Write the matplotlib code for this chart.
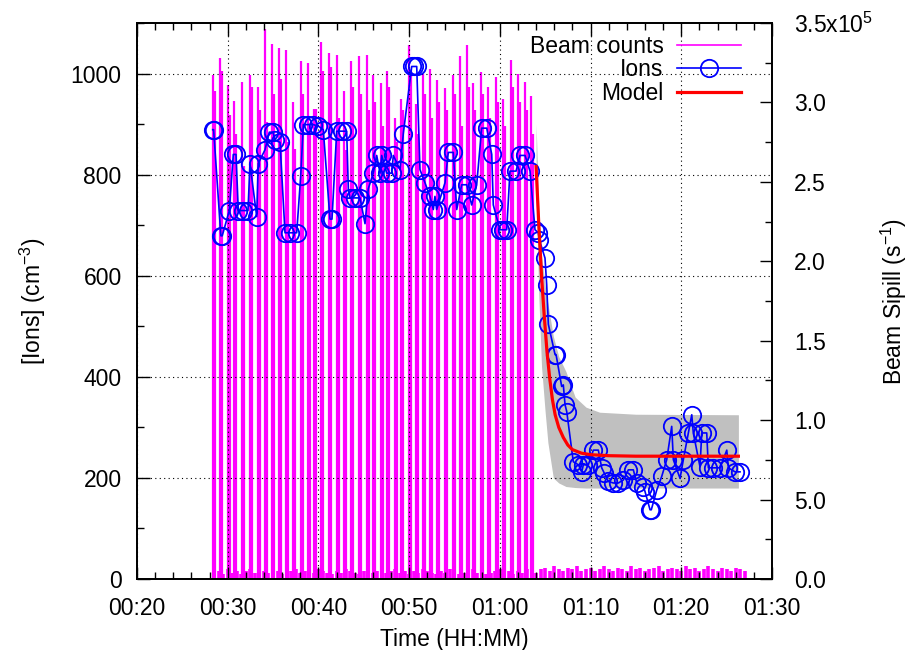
import numpy as np
import matplotlib
matplotlib.use('Agg')
import matplotlib.pyplot as plt
from matplotlib.ticker import MultipleLocator, FixedLocator
from matplotlib.lines import Line2D

plt.rcParams['font.family'] = ['Liberation Sans', 'DejaVu Sans']
plt.rcParams['mathtext.fontset'] = 'custom'
plt.rcParams['mathtext.rm'] = 'Liberation Sans'
plt.rcParams['mathtext.default'] = 'regular'

# time in minutes after 00:00
xticks = [20, 30, 40, 50, 60, 70, 80, 90]
xlabels = ['00:20', '00:30', '00:40', '00:50', '01:00', '01:10', '01:20', '01:30']

# right axis (beam spill, x1e5)
y2ticks = [0.0, 0.5, 1.0, 1.5, 2.0, 2.5, 3.0, 3.5]
y2labels = ['0.0', '5.0', '1.0', '1.5', '2.0', '2.5', '3.0', '3.5x10$^5$']

# beam spills, pairs of spikes (units 1e5 s^-1)
spill_t = [28.35, 29.15, 30.00, 30.73, 31.54, 32.46, 33.31, 34.11, 34.92, 35.69,
           36.38, 37.23, 38.05, 38.89, 39.51, 40.29, 41.17, 42.02, 42.82, 43.56,
           44.44, 45.33, 46.05, 46.87, 47.53, 48.45, 49.11, 50.02, 50.73, 51.50,
           52.30, 53.04, 53.96, 54.81, 55.61, 56.42, 57.08, 57.89, 58.73, 59.58,
           60.39, 61.20, 62.04, 62.78, 63.41]
spill_a = [3.17, 3.28, 3.11, 3.01, 3.13, 3.17, 3.10, 3.46, 3.37, 3.34,
           3.33, 3.00, 3.26, 3.25, 2.96, 3.38, 3.31, 3.30, 3.07, 3.26,
           3.29, 3.30, 3.17, 3.12, 3.20, 2.90, 3.02, 3.36, 2.99, 3.18,
           3.21, 3.14, 3.09, 3.17, 3.29, 3.36, 3.12, 3.19, 3.10, 3.16,
           3.02, 3.27, 3.18, 3.13, 3.04]
spill2_t = [28.57, 29.37, 30.22, 30.95, 31.76, 32.68, 33.53, 34.33, 35.14, 35.91,
            36.60, 37.45, 38.27, 39.11, 39.73, 40.51, 41.39, 42.24, 43.04, 43.78,
            44.66, 45.55, 46.27, 47.09, 47.75, 48.67, 49.33, 50.24, 50.95, 51.72,
            52.52, 53.26, 54.18, 55.03, 55.83, 56.64, 57.30, 58.11, 58.95, 59.80,
            60.61, 61.42, 62.26, 63.00, 63.63]
spill_b = [3.07, 3.20, 2.92, 2.80, 2.60, 3.10, 2.95, 2.88, 3.05, 3.15,
           2.75, 2.71, 3.05, 2.85, 2.96, 3.20, 3.22, 2.90, 2.70, 3.10,
           3.05, 2.95, 3.00, 2.85, 3.10, 2.75, 2.95, 3.20, 2.80, 3.05,
           2.90, 3.00, 2.95, 3.05, 2.85, 3.10, 2.95, 3.05, 2.90, 3.00,
           2.85, 3.10, 3.00, 2.95, 2.80]

# background counts, every 0.5 min from 28.5 to 87.0
noise_t = np.arange(28.5, 87.01, 0.5)
noise_v = [0.04, 0.05, 0.03, 0.06, 0.04, 0.05, 0.03, 0.05, 0.06, 0.04,
           0.03, 0.05, 0.04, 0.06, 0.05, 0.03, 0.04, 0.05, 0.06, 0.04,
           0.05, 0.03, 0.04, 0.06, 0.05, 0.04, 0.03, 0.05, 0.04, 0.06,
           0.05, 0.04, 0.03, 0.05, 0.06, 0.04, 0.05, 0.03, 0.04, 0.05,
           0.06, 0.04, 0.05, 0.03, 0.05, 0.04, 0.06, 0.05, 0.04, 0.03,
           0.05, 0.04, 0.06, 0.05, 0.03, 0.04, 0.05, 0.06, 0.04, 0.05,
           0.03, 0.04, 0.05, 0.06, 0.04, 0.05, 0.03, 0.05, 0.04, 0.06,
           0.05, 0.04,
           0.06, 0.07, 0.05, 0.08, 0.06, 0.05, 0.07, 0.06, 0.08, 0.05,
           0.06, 0.07, 0.05, 0.06, 0.08, 0.06, 0.05, 0.07, 0.06, 0.05,
           0.08, 0.06, 0.07, 0.05, 0.06, 0.07, 0.08, 0.05, 0.06, 0.07,
           0.06, 0.05, 0.08, 0.06, 0.07, 0.05, 0.06, 0.08, 0.06, 0.05,
           0.07, 0.06, 0.05, 0.07, 0.06, 0.05]

# ion concentration (cm^-3)
ion_t = [28.35, 28.45, 29.25, 29.40, 30.18, 30.62, 30.92, 31.17, 31.72, 32.24,
         32.46, 33.20, 33.37, 34.11, 34.59, 35.00, 35.22, 35.77, 36.32, 36.87,
         37.61, 38.05, 38.34, 38.89, 39.44, 39.99, 40.54, 41.28, 41.50, 42.02,
         42.57, 43.12, 43.30, 43.48, 44.04, 44.59, 45.14, 45.50, 46.05, 46.43,
         46.80, 46.98, 47.53, 48.08, 48.26, 49.00, 49.36, 50.29, 50.54, 50.84,
         51.20, 51.75, 52.30, 52.67, 52.85, 53.04, 53.96, 54.32, 54.87, 55.25,
         55.80, 56.35, 56.90, 57.45, 58.00, 58.56, 59.11, 59.28, 60.02, 60.35,
         60.76, 61.12, 61.79, 62.23, 62.78, 63.33, 63.88, 64.24, 64.36, 64.98,
         65.17, 65.35, 66.09, 66.20, 66.82, 67.00, 67.19, 67.38, 68.10, 68.66,
         69.03, 69.21, 69.76, 70.31, 70.86, 71.23, 71.50, 71.96, 72.51, 73.07,
         73.62, 74.17, 74.72, 75.09, 75.82, 76.01, 76.56, 76.70, 77.30, 77.85,
         78.40, 78.95, 79.13, 79.87, 80.23, 80.78, 81.16, 81.33, 82.07, 82.26,
         82.81, 82.99, 83.54, 84.28, 85.02, 85.20, 85.93, 86.48]
ion_v = [889, 889, 679, 679, 729, 840, 840, 729, 729, 729,
         822, 717, 822, 849, 884, 884, 868, 864, 685, 685,
         685, 797, 899, 899, 899, 896, 889, 712, 712, 886,
         886, 886, 772, 754, 754, 754, 703, 772, 803, 838,
         803, 838, 803, 803, 838, 810, 881, 1014, 1014, 1014,
         810, 784, 757, 731, 757, 731, 784, 844, 844, 731,
         780, 780, 740, 780, 892, 892, 840, 740, 691, 691,
         691, 807, 807, 838, 838, 807, 691, 685, 671, 635,
         582, 504, 444, 444, 381, 384, 345, 331, 232, 226,
         212, 226, 226, 255, 255, 220, 210, 193, 190, 190,
         196, 216, 216, 190, 183, 173, 137, 137, 176, 203,
         236, 302, 236, 199, 236, 289, 325, 289, 222, 289,
         289, 220, 220, 220, 255, 220, 212, 212]

# model fit and its uncertainty band
model_t = [64.0, 64.3, 64.6, 64.9, 65.2, 65.5, 65.8, 66.1, 66.5, 67.0,
           67.5, 68.0, 69.0, 70.0, 72.0, 75.0, 80.0, 86.3]
model_v = [816, 700, 600, 520, 450, 397, 355, 325, 300, 280,
           265, 256, 249, 246, 244, 243, 243, 243]
band_t = [64.0, 64.3, 64.6, 65.0, 65.3, 65.9, 66.5, 67.3, 68.3, 69.5, 71.0, 75.0, 86.3]
band_hi = [900, 730, 640, 580, 545, 480, 440, 410, 360, 340, 330, 326, 325]
band_lo = [760, 560, 420, 330, 270, 200, 190, 183, 181, 180, 180, 180, 180]

fig = plt.figure(figsize=(9.1, 6.5), dpi=100)
ax = fig.add_axes([0.1505, 0.1092, 0.6978, 0.8554])
ax2 = ax.twinx()
ax.set_zorder(ax2.get_zorder() + 1)
ax.patch.set_visible(False)

mag = '#ff00ff'
ax2.vlines(spill_t, 0, spill_a, color=mag, lw=1.6)
ax2.vlines(spill2_t, 0, spill_b, color=mag, lw=1.6)
ax2.vlines(noise_t, 0, noise_v, color=mag, lw=2.6)
ax2.set_ylim(0, 3.5)

ax.fill_between(band_t, band_lo, band_hi, color='#c0c0c0', lw=0, zorder=1)
ax.plot(ion_t, ion_v, '-o', color='#0000ff', mfc='none', ms=12.5, mew=1.3, lw=1.2, zorder=3)
ax.plot(model_t, model_v, color='#ff0000', lw=2.3, zorder=4)

ax.set_xlim(20, 90)
ax.set_ylim(0, 1100)
ax.xaxis.set_major_locator(FixedLocator(xticks))
ax.set_xticklabels(xlabels)
ax.xaxis.set_minor_locator(MultipleLocator(2))
ax.yaxis.set_major_locator(MultipleLocator(200))
ax.yaxis.set_minor_locator(MultipleLocator(100))
ax.tick_params(which='both', direction='in', top=True, right=False, labelsize=16.5, width=1)
ax.tick_params(which='major', length=9)
ax.tick_params(which='minor', length=5)
ax.tick_params(axis='x', pad=13)
ax.tick_params(axis='y', pad=11)

ax2.yaxis.set_major_locator(FixedLocator(y2ticks))
ax2.set_yticklabels(y2labels)
ax2.yaxis.set_minor_locator(MultipleLocator(0.25))
ax2.tick_params(which='both', direction='in', labelsize=16.5, width=1, pad=16)
ax2.tick_params(which='major', length=9)
ax2.tick_params(which='minor', length=5)

ax.grid(True, which='major', color='black', ls=(0, (1, 3)), lw=0.8)

for a in (ax, ax2):
    for s in a.spines.values():
        s.set_linewidth(1.3)

ax.set_xlabel('Time (HH:MM)', fontsize=16.5, labelpad=6)
ax.set_ylabel('[Ions] (cm$^{-3}$)', fontsize=16.5, labelpad=16)
ax2.set_ylabel('Beam Sipill (s$^{-1}$)', fontsize=16.5, labelpad=4)

handles = [Line2D([], [], color=mag, lw=1.2),
           Line2D([], [], color='#0000ff', marker='o', mfc='none', ms=12.5, mew=1.3, lw=1.2),
           Line2D([], [], color='#ff0000', lw=2.3)]
ax.legend(handles, ['Beam counts', 'Ions', 'Model'], loc='upper right',
          bbox_to_anchor=(0.977, 1.008), frameon=False, markerfirst=False,
          fontsize=16.5, handlelength=2.8, labelspacing=0.03, borderpad=0.2,
          handletextpad=0.6)

fig.savefig('out.png', dpi=100)
